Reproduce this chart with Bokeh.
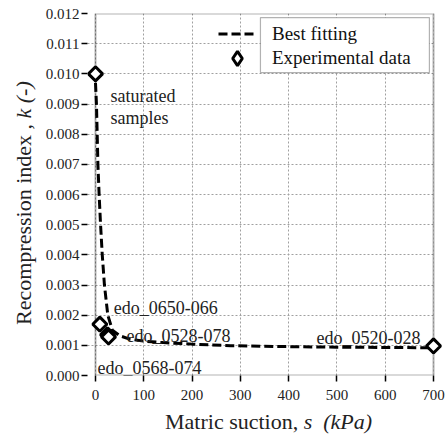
from bokeh.plotting import figure
from bokeh.models import (Range1d, FixedTicker, PrintfTickFormatter, Label,
                          Legend, LegendItem, BoxAnnotation, Div)
from bokeh.layouts import row, column
from bokeh.embed import file_html
from bokeh.resources import INLINE

# ---------------- data ----------------
fit_s = [0, 2, 3.5, 5, 7.5, 10.5, 14, 18.5, 25.5, 35, 50, 72, 100, 140,
         200, 280, 380, 500, 600, 700]
fit_k = [0.0097, 0.0090, 0.0080, 0.0070, 0.0060, 0.0050, 0.0040, 0.0030,
         0.0020, 0.0015, 0.00132, 0.00120, 0.00114, 0.00109, 0.00104,
         0.00099, 0.00096, 0.00094, 0.00093, 0.00092]

exp_s = [0, 9, 25, 27, 700]
exp_k = [0.0100, 0.0017, 0.00135, 0.00128, 0.00098]
exp_names = ["saturated", "edo_0650-066", "edo_0528-078", "edo_0568-074",
             "edo_0520-028"]

x_ticks = [0, 100, 200, 300, 400, 500, 600, 700]
y_ticks = [0.000, 0.001, 0.002, 0.003, 0.004, 0.005, 0.006, 0.007, 0.008,
           0.009, 0.010, 0.011, 0.012]

FONT = "Liberation Serif"
X0, X1 = -16.56, 726.9
Y0, Y1 = 0.0, 0.012

p = figure(width=406, height=407, x_range=Range1d(X0, X1),
           y_range=Range1d(Y0, Y1), output_backend="svg",
           toolbar_location=None, min_border_left=47, min_border_right=0,
           min_border_top=13, min_border_bottom=32)
p.outline_line_color = None
p.background_fill_color = "white"

# axes
p.xaxis.ticker = FixedTicker(ticks=x_ticks)
p.yaxis.ticker = FixedTicker(ticks=y_ticks)
p.xgrid.ticker = FixedTicker(ticks=x_ticks)
p.ygrid.ticker = FixedTicker(ticks=y_ticks)
p.yaxis.formatter = PrintfTickFormatter(format="%.3f")
for ax in (p.xaxis, p.yaxis):
    ax.axis_line_alpha = 0
    ax.major_tick_line_color = "black"
    ax.major_tick_line_width = 1.5
    ax.minor_tick_line_color = None
    ax.major_label_text_font = FONT
    ax.major_label_text_font_size = "15px"
    ax.major_label_text_color = "#222222"
p.xaxis.major_tick_out = 6
p.xaxis.major_tick_in = 0
p.xaxis.major_label_standoff = 8
p.yaxis.major_tick_out = 6
p.yaxis.major_tick_in = 0
p.yaxis.major_label_standoff = 2

for g in (p.xgrid, p.ygrid):
    g.grid_line_color = "#a0a0a0"
    g.grid_line_dash = "2 2"
    g.grid_line_width = 1

# cover for grid stubs right of the plotting box, then the box frame
p.add_layout(BoxAnnotation(left=700, right=X1, bottom=Y0, top=Y1,
                           fill_color="white", fill_alpha=1, line_alpha=0,
                           level="underlay"))
p.add_layout(BoxAnnotation(left=0, right=700, bottom=Y0, top=Y1,
                           fill_color=None, fill_alpha=0, line_color="black",
                           line_width=2, level="underlay"))

# data
line_r = p.line(fit_s, fit_k, line_color="black", line_width=3,
                line_dash="9 4")
pts_r = p.scatter(exp_s, exp_k, marker="square", angle=45, angle_units="deg",
                  size=10, fill_color="white", line_color="black",
                  line_width=3)
# hidden legend proxy so the legend shows an upright diamond
proxy_r = p.scatter(exp_s, exp_k, marker="diamond", size=16,
                    fill_color="white", line_color="black", line_width=3,
                    visible=False)

# sample labels (anchored to their points, pixel offsets)
lab_style = dict(text_font=FONT, text_font_size="18px",
                 text_baseline="alphabetic", text_color="#222222")
p.add_layout(Label(x=exp_s[0], y=exp_k[0], x_offset=15, y_offset=-22,
                   text="saturated", **lab_style))
p.add_layout(Label(x=exp_s[0], y=exp_k[0], x_offset=15, y_offset=-44,
                   text="samples", **lab_style))
p.add_layout(Label(x=exp_s[1], y=exp_k[1], x_offset=14, y_offset=16,
                   text=exp_names[1], **lab_style))
p.add_layout(Label(x=exp_s[2], y=exp_k[2], x_offset=19, y_offset=-1,
                   text=exp_names[2], **lab_style))
p.add_layout(Label(x=exp_s[3], y=exp_k[3], x_offset=-11, y_offset=-31,
                   text=exp_names[3], **lab_style))
p.add_layout(Label(x=exp_s[4], y=exp_k[4], x_offset=-13, y_offset=8,
                   text=exp_names[4], text_align="right", **lab_style))

# legend box + legends (one per row so the marker can be drawn larger)
p.add_layout(BoxAnnotation(left=341.6, right=691.5, bottom=0.010043,
                           top=0.011866, fill_color="white", fill_alpha=1,
                           line_color="black", line_width=1.2))
leg_style = dict(border_line_alpha=0, background_fill_alpha=0, padding=0,
                 margin=0, spacing=0, glyph_width=38, label_standoff=16,
                 label_text_font=FONT, label_text_font_size="19px",
                 label_text_color="#111111", inactive_fill_alpha=0)
legend1 = Legend(items=[LegendItem(label="Best fitting", renderers=[line_r])],
                 location=(131, 329), glyph_height=25, label_height=25,
                 **leg_style)
legend2 = Legend(items=[LegendItem(label="Experimental data",
                                   renderers=[proxy_r])],
                 location=(131, 299), glyph_height=36, label_height=36,
                 **leg_style)
p.add_layout(legend1)
p.add_layout(legend2)

# axis titles (mixed upright / italic) as HTML next to the figure
font_css = ("font-family:'Liberation Serif'; font-size:22px; "
            "line-height:22px; color:#222222; white-space:nowrap;")
ylab = Div(width=40, height=442, margin=0,
           text=('<div style="padding:325px 0 0 13px; margin:0;">'
                 '<div style="display:block; transform:rotate(-90deg); '
                 'transform-origin:0 0; ' + font_css + '">'
                 'Recompression index , <i>k (-)</i></div></div>'))
xlab = Div(width=406, height=35, margin=0,
           text=('<div style="padding:4px 0 0 125px; margin:0; ' + font_css
                 + '">Matric suction, <i>s</i>&nbsp; <i>(kPa)</i></div>'))

layout = row(ylab, column(p, xlab, spacing=0), spacing=0)

open("out.html", "w").write(file_html(layout, INLINE))
